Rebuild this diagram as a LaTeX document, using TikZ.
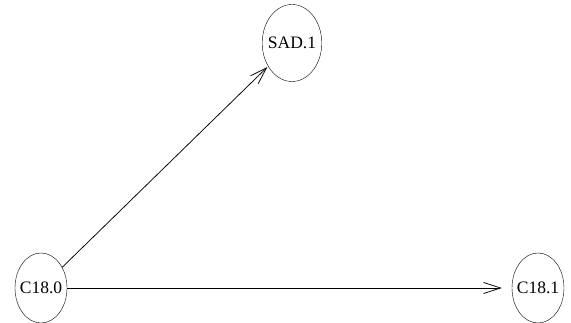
\documentclass[tikz,border=0pt]{standalone}
\usepackage{fontspec}
\setmainfont{Liberation Serif}
\usetikzlibrary{arrows.meta,shapes.geometric}

\begin{document}
\begin{tikzpicture}[x=1pt, y=1pt, >={Straight Barb[length=17pt,width=11pt]},
    var/.style={ellipse, draw, inner xsep=-3pt, inner ysep=0pt, minimum width=52pt, minimum height=70pt, font=\fontsize{17.5}{20}\selectfont},
    link/.style={->, line width=0.75pt}]
    \useasboundingbox (0,0) rectangle (571,323);

    \node[var, minimum height=77pt] (sad) at (292,280) {SAD.1};
    \node[var] (c180) at (41,35) {C18.0};
    \node[var] (c181) at (538,35) {C18.1};

    \draw[link, shorten >=1pt] (c180) -- (sad);
    \draw[link, shorten >=10pt] (c180) -- (c181);
\end{tikzpicture}
\end{document}
